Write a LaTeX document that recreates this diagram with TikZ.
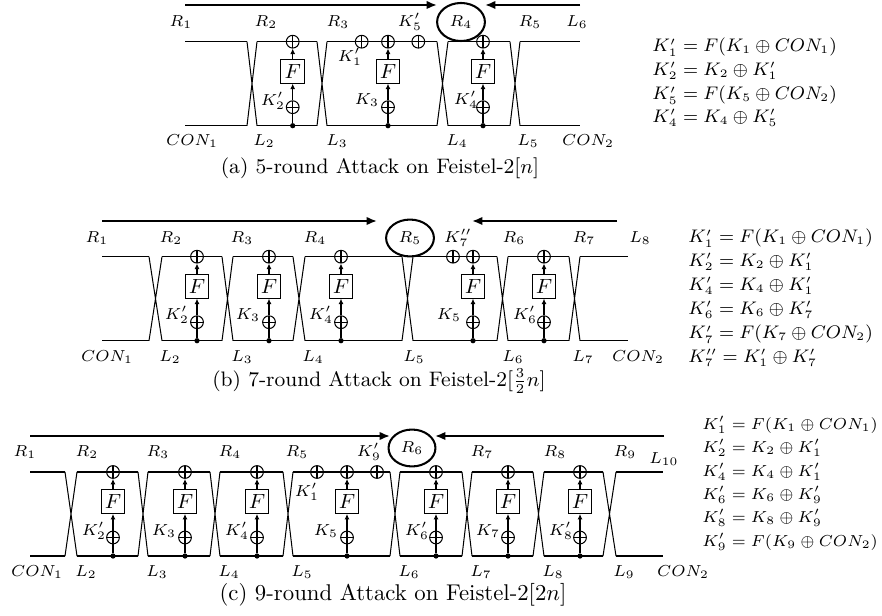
\documentclass[tikz,border=0pt]{standalone}
\usetikzlibrary{arrows.meta,shapes.geometric}
\newcommand\feistelround[3]{%
  \node[dotn] (#1d) at (#2,#3+84) {};
  \node[xor] (#1x) at (#2,#3+65.5) {};
  \node[fbox] (#1f) at (#2,#3+29.5) {$F$};
  \node[xor] (#1t) at (#2,#3) {};
  \draw[wire] (#1d) -- (#1x);
  \draw[flow] (#1x) -- (#1f);
  \draw[flow] (#1f) -- (#1t);
}
\tikzset{
  wire/.style={line width=0.45pt},
  xor/.style={circle, draw, fill=white, line width=0.45pt, minimum size=5.6pt, inner sep=0pt,
    path picture={\draw[line width=0.45pt] (path picture bounding box.north)--(path picture bounding box.south)
      (path picture bounding box.west)--(path picture bounding box.east);}},
  fbox/.style={draw, fill=white, line width=0.45pt, minimum size=10.5pt, inner sep=0pt, font=\fontsize{9.5}{10}\selectfont},
  dotn/.style={circle, fill, minimum size=2.3pt, inner sep=0pt},
  lbl/.style={font=\fontsize{7.4}{8}\selectfont, inner sep=0pt},
  flow/.style={-{Latex[length=2.4pt,width=2.2pt]}, line width=0.45pt},
  bigarrow/.style={-{Latex[length=4.6pt,width=3.8pt]}, line width=0.9pt},
  meet/.style={ellipse, draw, line width=0.9pt, inner sep=0pt, minimum width=21pt, minimum height=16.2pt, font=\fontsize{7.4}{8}\selectfont},
  eqn/.style={anchor=west, inner sep=0pt, font=\fontsize{7.8}{9}\selectfont},
  eqnc/.style={eqn, font=\fontsize{7.35}{9}\selectfont},
  captxt/.style={inner sep=0pt},
}
\begin{document}
\begin{tikzpicture}[x=0.4392pt,y=-0.4392pt]
\useasboundingbox (0,0) rectangle (882,616);

% ================= panel (a) =================
\def\T{41.7}\def\B{125.7}
\foreach \a/\b in {185/247,257/317,327/437,448/510,520/580}
  \draw[wire] (\a,\T)--(\b,\T) (\a,\B)--(\b,\B);
\foreach \a/\b in {247/257,317/327,437/448,510/520}
  \draw[wire] (\a,\T)--(\b,\B) (\a,\B)--(\b,\T);
\feistelround{a2}{292.7}{41.7}
\feistelround{a3}{388}{41.7}
\feistelround{a4}{483}{41.7}
\node[xor] (axa) at (361.7,41.7) {};
\node[xor] (axb) at (418.3,41.7) {};
\node[meet, minimum height=16.7pt] (aR4) at (461,22) {$R_4$};
\coordinate (aLs) at (185,5); \coordinate (aLe) at (437,5);
\coordinate (aRs) at (580,5); \coordinate (aRe) at (485,5);
\draw[bigarrow] (aLs) -- (aLe);
\draw[bigarrow] (aRs) -- (aRe);
\foreach \n/\x/\t in {r1/181/R_1,r2/266/R_2,r3/338/R_3,k5/410/K'_5,r5/530/R_5,l6/577/L_6}
  \node[lbl] (a\n) at (\x,22) {$\t$};
\foreach \n/\x/\t in {c1/192/CON_1,l2/264/L_2,l3/337/L_3,l4/457/L_4,l5/528/L_5,c2/588/CON_2}
  \node[lbl] (a\n) at (\x,141) {$\t$};
\node[lbl] (ak1) at (350,57) {$K'_1$};
\node[lbl] (ak2) at (273,101) {$K'_2$};
\node[lbl] (ak3) at (367,100) {$K_3$};
\node[lbl] (ak4) at (466,100) {$K'_4$};
\node[eqn] (ae1) at (652,47) {$K'_1 = F(K_1 \oplus CON_1)$};
\node[eqn] (ae2) at (652,71) {$K'_2 = K_2 \oplus K'_1$};
\node[eqn] (ae3) at (652,95) {$K'_5 = F(K_5 \oplus CON_2)$};
\node[eqn] (ae4) at (652,118) {$K'_4 = K_4 \oplus K'_5$};
\node[captxt, font=\fontsize{9.2}{11}\selectfont] (acap) at (380,168) {(a) 5-round Attack on Feistel-2[$n$]};

% ================= panel (b) =================
\def\T{256.7}\def\B{340.7}
\foreach \a/\b in {102/149,162/222,233/293,305/402,413/497,508/569,580/628}
  \draw[wire] (\a,\T)--(\b,\T) (\a,\B)--(\b,\B);
\foreach \a/\b in {149/162,222/233,293/305,402/413,497/508,569/580}
  \draw[wire] (\a,\T)--(\b,\B) (\a,\B)--(\b,\T);
\feistelround{b2}{197}{256.7}
\feistelround{b3}{269}{256.7}
\feistelround{b4}{341}{256.7}
\feistelround{b5}{473}{256.7}
\feistelround{b6}{544}{256.7}
\node[xor] (bxa) at (453,256.7) {};
\node[meet] (bR5) at (410,238) {$R_5$};
\coordinate (bLs) at (102,221); \coordinate (bLe) at (377,221);
\coordinate (bRs) at (617,221); \coordinate (bRe) at (472,221);
\draw[bigarrow] (bLs) -- (bLe);
\draw[bigarrow] (bRs) -- (bRe);
\foreach \n/\x/\t in {r1/97/R_1,r2/171/R_2,r3/242/R_3,r4/315/R_4,k7/458/K''_7,r6/514/R_6,r7/584/R_7,l8/640/L_8}
  \node[lbl] (b\n) at (\x,238) {$\t$};
\foreach \n/\x/\t in {c1/107/CON_1,l2/170/L_2,l3/242/L_3,l4/313/L_4,l5/414/L_5,l6/513/L_6,l7/583/L_7,c2/638/CON_2}
  \node[lbl] (b\n) at (\x,357) {$\t$};
\foreach \n/\x/\t in {k2/177/K'_2,k3/248/K_3,k4/321/K'_4,k5/449/K_5,k6/525/K'_6}
  \node[lbl] (b\n) at (\x,315) {$\t$};
\node[eqn] (be1) at (688,238) {$K'_1 = F(K_1 \oplus CON_1)$};
\node[eqn] (be2) at (688,262) {$K'_2 = K_2 \oplus K'_1$};
\node[eqn] (be3) at (688,286) {$K'_4 = K_4 \oplus K'_1$};
\node[eqn] (be4) at (688,310) {$K'_6 = K_6 \oplus K'_7$};
\node[eqn] (be5) at (688,334) {$K'_7 = F(K_7 \oplus CON_2)$};
\node[eqn] (be6) at (688,358) {$K''_7 = K'_1 \oplus K'_7$};
\node[captxt, font=\fontsize{9.2}{11}\selectfont] (bcap) at (379,381) {(b) 7-round Attack on Feistel-2[$\frac{3}{2}n$]};

% ================= panel (c) =================
\def\T{472}\def\B{556}
\foreach \a/\b in {30/65,77/138,148/210,220/283,293/390,400/462,472/533,544/603,616/663}
  \draw[wire] (\a,\T)--(\b,\T) (\a,\B)--(\b,\B);
\foreach \a/\b in {65/77,138/148,210/220,283/293,390/400,462/472,533/544,603/616}
  \draw[wire] (\a,\T)--(\b,\B) (\a,\B)--(\b,\T);
\feistelround{c2}{113}{472}
\feistelround{c3}{185}{472}
\feistelround{c4}{257}{472}
\feistelround{c5}{347}{472}
\feistelround{c6}{436}{472}
\feistelround{c7}{508}{472}
\feistelround{c8}{580}{472}
\node[xor] (cxa) at (317,472) {};
\node[xor] (cxb) at (377,472) {};
\node[meet, minimum width=20.6pt] (cR6) at (412,448) {$R_6$};
\coordinate (cLs) at (30,436); \coordinate (cLe) at (390,436);
\coordinate (cRs) at (664,436); \coordinate (cRe) at (435,436);
\draw[bigarrow] (cLs) -- (cLe);
\draw[bigarrow] (cRs) -- (cRe);
\foreach \n/\x/\t in {r1/25/R_1,r2/87/R_2,r3/158/R_3,r4/230/R_4,r5/297/R_5,k9/369/K'_9,r7/482/R_7,r8/555/R_8,r9/625/R_9}
  \node[lbl] (c\n) at (\x,452) {$\t$};
\node[lbl] (cl10) at (664,459) {$L_{10}$};
\foreach \n/\x/\t in {c1/37/CON_1,l2/86/L_2,l3/157/L_3,l4/229/L_4,l5/302/L_5,l6/409/L_6,l7/481/L_7,l8/553/L_8,l9/624/L_9,c2/683/CON_2}
  \node[lbl] (c\n) at (\x,572) {$\t$};
\foreach \n/\x/\t in {k2/94/K'_2,k3/164/K_3,k4/237/K'_4,k5/326/K_5,k6/417/K'_6,k7/488/K_7,k8/561/K'_8}
  \node[lbl] (c\n) at (\x,531) {$\t$};
\node[lbl] (ck1) at (307,492) {$K'_1$};
\node[eqnc] (ce1) at (702,425) {$K'_1 = F(K_1 \oplus CON_1)$};
\node[eqnc] (ce2) at (702,448) {$K'_2 = K_2 \oplus K'_1$};
\node[eqnc] (ce3) at (702,472) {$K'_4 = K_4 \oplus K'_1$};
\node[eqnc] (ce4) at (702,495) {$K'_6 = K_6 \oplus K'_9$};
\node[eqnc] (ce5) at (702,518) {$K'_8 = K_8 \oplus K'_9$};
\node[eqnc] (ce6) at (702,542) {$K'_9 = F(K_9 \oplus CON_2)$};
\node[captxt, font=\fontsize{10}{12}\selectfont] (ccap) at (393,595) {(c) 9-round Attack on Feistel-2[$2n$]};
\end{tikzpicture}
\end{document}
